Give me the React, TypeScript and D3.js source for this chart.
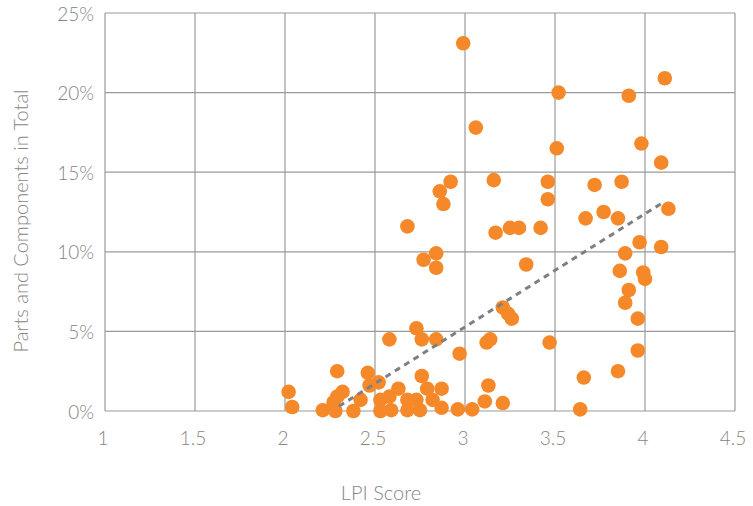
import { useMemo } from 'react'
import * as d3 from 'd3'

// LPI score (x) vs parts & components share of total trade (y, %)
const lpiScore = [
  2.99, 3.52, 3.91, 4.11, 3.06, 3.51, 3.98, 4.09, 2.92, 2.86,
  2.88, 2.68, 3.16, 3.46, 3.46, 3.17, 3.25, 3.30, 3.42, 3.67,
  2.77, 2.84, 2.84, 3.34, 3.72, 3.87, 3.77, 3.85, 4.13, 3.97,
  4.09, 3.89, 3.86, 3.99, 4.00, 3.91, 3.89, 3.96, 3.21, 3.24,
  3.26, 3.96, 3.85, 3.66, 3.64, 3.47, 3.12, 3.14, 3.13, 3.11,
  3.21, 3.04, 2.96, 2.97, 2.87, 2.87, 2.84, 2.73, 2.58, 2.76,
  2.29, 2.46, 2.47, 2.52, 2.76, 2.02, 2.04, 2.21, 2.28, 2.27,
  2.32, 2.29, 2.38, 2.42, 2.53, 2.53, 2.63, 2.58, 2.68, 2.79,
  2.73, 2.82, 2.59, 2.68, 2.75,
]
const partsShare = [
  23.1, 20.0, 19.8, 20.9, 17.8, 16.5, 16.8, 15.6, 14.4, 13.8,
  13.0, 11.6, 14.5, 14.4, 13.3, 11.2, 11.5, 11.5, 11.5, 12.1,
  9.5, 9.9, 9.0, 9.2, 14.2, 14.4, 12.5, 12.1, 12.7, 10.6,
  10.3, 9.9, 8.8, 8.7, 8.3, 7.6, 6.8, 5.8, 6.5, 6.1,
  5.8, 3.8, 2.5, 2.1, 0.1, 4.3, 4.3, 4.5, 1.6, 0.6,
  0.5, 0.1, 0.1, 3.6, 0.2, 1.4, 4.5, 5.2, 4.5, 4.5,
  2.5, 2.4, 1.6, 1.8, 2.2, 1.2, 0.25, 0.05, 0.0, 0.55,
  1.2, 0.9, 0.0, 0.7, 0.7, 0.0, 1.4, 0.9, 0.7, 1.4,
  0.7, 0.7, 0.05, 0.05, 0.05,
]
const trendX = [2.3, 4.1]
const trendY = [0.3, 13.1]
const xTicks = [1, 1.5, 2, 2.5, 3, 3.5, 4, 4.5]
const yTicks = [0, 5, 10, 15, 20, 25]

const W = 753
const H = 506
const PLOT = { left: 105, right: 735, top: 13, bottom: 411 }
const ORANGE = '#f5892a'
const GRID = '#9a9a9a'
const TEXT = '#858585'
const FONT = "Lato, 'Open Sans', sans-serif"

export default function App() {
  const x = useMemo(() => d3.scaleLinear().domain([1, 4.5]).range([PLOT.left, PLOT.right]), [])
  const y = useMemo(() => d3.scaleLinear().domain([0, 25]).range([PLOT.bottom, PLOT.top]), [])
  const points = lpiScore.map((v, i) => ({ x: v, y: partsShare[i] }))
  const trend = d3.line<number>()
    .x((_d, i) => x(trendX[i]))
    .y(d => y(d))(trendY)

  return (
    <svg width={W} height={H} style={{ position: 'absolute', left: 0, top: 0, background: '#fff' }}
      fontFamily={FONT}>
      {/* grid */}
      {xTicks.map(t => (
        <line key={'gx' + t} x1={x(t)} x2={x(t)} y1={PLOT.top} y2={PLOT.bottom}
          stroke={GRID} strokeWidth={1.2} />
      ))}
      {yTicks.map(t => (
        <line key={'gy' + t} x1={PLOT.left} x2={PLOT.right} y1={y(t)} y2={y(t)}
          stroke={GRID} strokeWidth={1.2} />
      ))}

      {/* tick labels */}
      {xTicks.map(t => (
        <text key={'tx' + t} x={x(t) - 2} y={PLOT.bottom + 27} dy="0.35em" textAnchor="middle"
          fontSize={19} fontWeight={300} fill={TEXT}>{t}</text>
      ))}
      {yTicks.map(t => (
        <text key={'ty' + t} x={PLOT.left - 11} y={y(t) + 1} dy="0.35em" textAnchor="end"
          fontSize={19} fontWeight={300} fill={TEXT}>{t + '%'}</text>
      ))}

      {/* points */}
      {points.map((p, i) => (
        <circle key={i} cx={x(p.x)} cy={y(p.y)} r={7.3} fill={ORANGE} />
      ))}

      {/* trend */}
      <path d={trend ?? ''} fill="none" stroke="#7f7f7f" strokeWidth={3} strokeDasharray="6 5" />

      {/* axis titles */}
      <text x={381} y={493} dy="0.35em" textAnchor="middle" fontSize={20} fontWeight={300} fill={TEXT}>
        LPI Score
      </text>
      <text transform={`translate(21,221) rotate(-90)`} dy="0.35em" textAnchor="middle"
        fontSize={20} fontWeight={300} fill={TEXT}>
        Parts and Components in Total
      </text>
    </svg>
  )
}
